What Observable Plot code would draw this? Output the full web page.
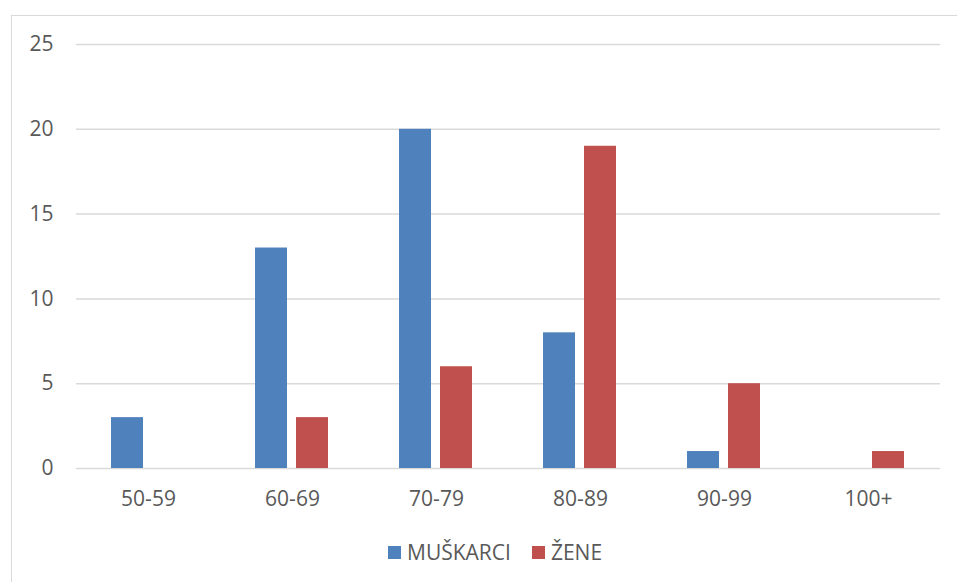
<!DOCTYPE html>
<html>
<head>
<meta charset="utf-8">
<script src="https://cdn.jsdelivr.net/npm/d3@7"></script>
<script src="https://cdn.jsdelivr.net/npm/@observablehq/plot@0.6"></script>
<style>
  html, body { margin: 0; padding: 0; background: #fff; }
  body { width: 957px; height: 582px; position: relative; overflow: hidden; font-family: "Open Sans", sans-serif; }
  #frame { position: absolute; left: 11px; top: 15px; width: 960px; height: 600px; border-left: 1.5px solid #d9d9d9; border-top: 1.5px solid #d9d9d9; }
  #chart { position: absolute; left: 0; top: 0; }
  #legend { position: absolute; left: 388px; top: 538px; display: flex; align-items: center; font-size: 21px; color: #595959; }
  .sw { width: 13px; height: 13px; display: inline-block; margin-right: 6px; }
  .item { display: flex; align-items: center; margin-right: 21px; }
</style>
</head>
<body>
<div id="frame"></div>
<div id="chart"></div>
<div id="legend"></div>
<script>
const categories = ["50-59", "60-69", "70-79", "80-89", "90-99", "100+"];
const seriesNames = ["MUŠKARCI", "ŽENE"];
const muskarci = [3, 13, 20, 8, 1, 0];
const zene = [0, 3, 6, 19, 5, 1];
const colors = ["#4F81BD", "#C0504D"];
const yTicks = [0, 5, 10, 15, 20, 25];

const data = [];
categories.forEach((c, i) => {
  data.push({cat: c, series: seriesNames[0], value: muskarci[i]});
  data.push({cat: c, series: seriesNames[1], value: zene[i]});
});

const plot = Plot.plot({
  width: 957,
  height: 520,
  marginLeft: 75,
  marginRight: 16,
  marginTop: 44,
  marginBottom: 52,
  style: { fontFamily: "Open Sans, sans-serif", fontSize: "21px", color: "#595959", background: "transparent" },
  fx: { domain: categories, padding: 0, label: null, axis: "bottom", tickSize: 0, tickPadding: 23 },
  x: { domain: seriesNames, axis: null, paddingInner: 0.214, paddingOuter: 0.825 },
  y: { domain: [0, 25], ticks: yTicks, label: null, tickSize: 0, tickPadding: 23 },
  color: { domain: seriesNames, range: colors },
  marks: [
    Plot.ruleY(yTicks, { stroke: "#d9d9d9", strokeWidth: 1.5 }),
    Plot.barY(data.filter(d => d.value > 0), { fx: "cat", x: "series", y: "value", fill: "series" }),
    Plot.axisY({ ticks: yTicks, tickSize: 0, tickPadding: 23, facetAnchor: "left", anchor: "left" })
  ]
});
document.getElementById("chart").appendChild(plot);

const legend = document.getElementById("legend");
seriesNames.forEach((s, i) => {
  const item = document.createElement("div");
  item.className = "item";
  const sw = document.createElement("span");
  sw.className = "sw";
  sw.style.background = colors[i];
  const t = document.createElement("span");
  t.textContent = s;
  item.appendChild(sw);
  item.appendChild(t);
  legend.appendChild(item);
});
</script>
</body>
</html>
